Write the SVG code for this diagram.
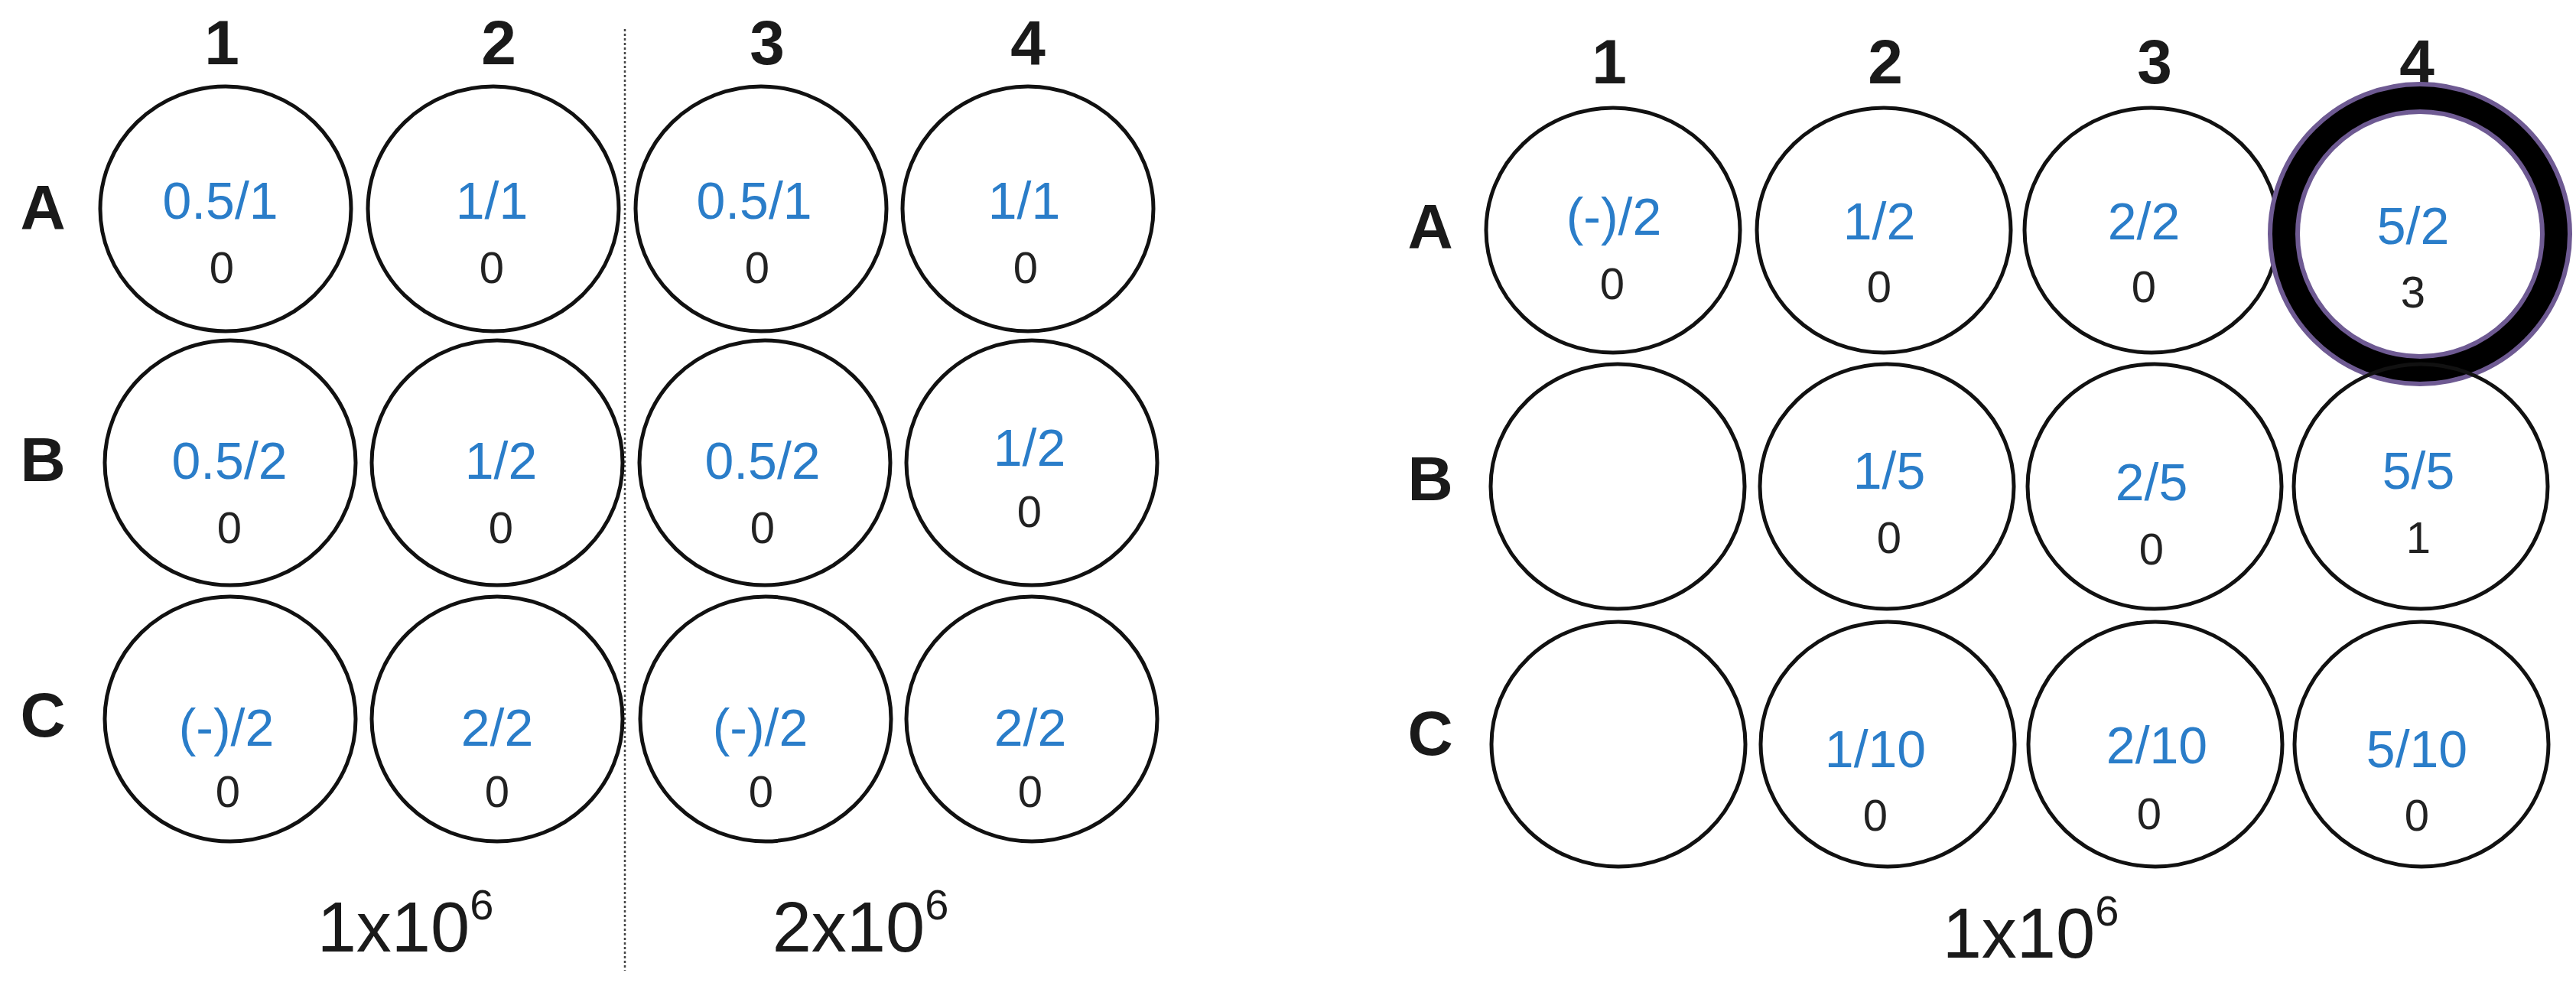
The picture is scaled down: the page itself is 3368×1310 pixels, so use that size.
<svg xmlns="http://www.w3.org/2000/svg" width="3368" height="1310" viewBox="0 0 3368 1310">
<style>
.w{fill:none;stroke:#111;stroke-width:5}
.h{font-family:"Liberation Sans",Arial,sans-serif;font-weight:bold;font-size:82px;fill:#1a1a1a;text-anchor:middle}
.b{font-family:"Liberation Sans",Arial,sans-serif;font-size:68px;fill:#2a7dc9;text-anchor:middle}
.k{font-family:"Liberation Sans",Arial,sans-serif;font-size:58px;fill:#222;text-anchor:middle}
.m{font-family:"Liberation Sans",Arial,sans-serif;font-size:92px;fill:#1a1a1a;text-anchor:middle}
</style>
<rect width="3368" height="1310" fill="#fff"/>
<g id="left-labels">
<text class="h" x="290" y="84">1</text><text class="h" x="652" y="84">2</text><text class="h" x="1003" y="84">3</text><text class="h" x="1344" y="84">4</text>
<text class="h" x="56" y="299">A</text><text class="h" x="56" y="629">B</text><text class="h" x="56" y="963">C</text>
<text class="m" x="530" y="1244">1x10<tspan font-size="56" dy="-42">6</tspan></text>
<text class="m" x="1125" y="1244">2x10<tspan font-size="56" dy="-42">6</tspan></text>
</g>
<line x1="817" y1="38" x2="817" y2="1269" stroke="#444" stroke-width="2.5" stroke-dasharray="3 3"/>
<g id="left-A1"><ellipse class="w" cx="295" cy="273" rx="164" ry="160"/><text class="b" x="288" y="286">0.5/1</text><text class="k" x="290" y="370">0</text></g>
<g id="left-A2"><ellipse class="w" cx="645" cy="273" rx="164" ry="160"/><text class="b" x="643" y="286">1/1</text><text class="k" x="643" y="370">0</text></g>
<g id="left-A3"><ellipse class="w" cx="995" cy="273" rx="164" ry="160"/><text class="b" x="986" y="286">0.5/1</text><text class="k" x="990" y="370">0</text></g>
<g id="left-A4"><ellipse class="w" cx="1344" cy="273" rx="164" ry="160"/><text class="b" x="1339" y="286">1/1</text><text class="k" x="1341" y="370">0</text></g>
<g id="left-B1"><ellipse class="w" cx="301" cy="605" rx="164" ry="160"/><text class="b" x="300" y="626">0.5/2</text><text class="k" x="300" y="710">0</text></g>
<g id="left-B2"><ellipse class="w" cx="650" cy="605" rx="164" ry="160"/><text class="b" x="655" y="626">1/2</text><text class="k" x="655" y="710">0</text></g>
<g id="left-B3"><ellipse class="w" cx="1000" cy="605" rx="164" ry="160"/><text class="b" x="997" y="626">0.5/2</text><text class="k" x="997" y="710">0</text></g>
<g id="left-B4"><ellipse class="w" cx="1349" cy="605" rx="164" ry="160"/><text class="b" x="1346" y="609">1/2</text><text class="k" x="1346" y="689">0</text></g>
<g id="left-C1"><ellipse class="w" cx="301" cy="940" rx="164" ry="160"/><text class="b" x="296" y="975">(-)/2</text><text class="k" x="298" y="1055">0</text></g>
<g id="left-C2"><ellipse class="w" cx="650" cy="940" rx="164" ry="160"/><text class="b" x="650" y="975">2/2</text><text class="k" x="650" y="1055">0</text></g>
<g id="left-C3"><ellipse class="w" cx="1001" cy="940" rx="164" ry="160"/><text class="b" x="994" y="975">(-)/2</text><text class="k" x="995" y="1055">0</text></g>
<g id="left-C4"><ellipse class="w" cx="1349" cy="940" rx="164" ry="160"/><text class="b" x="1347" y="975">2/2</text><text class="k" x="1347" y="1055">0</text></g>
<g id="right-labels">
<text class="h" x="2104" y="109">1</text><text class="h" x="2465" y="109">2</text><text class="h" x="2817" y="109">3</text><text class="h" x="3160" y="109">4</text>
<text class="h" x="1870" y="324">A</text><text class="h" x="1870" y="654">B</text><text class="h" x="1870" y="987">C</text>
<text class="m" x="2655" y="1252">1x10<tspan font-size="56" dy="-42">6</tspan></text>
</g>
<g id="right-A1"><ellipse class="w" cx="2109" cy="301" rx="166" ry="160"/><text class="b" x="2110" y="307">(-)/2</text><text class="k" x="2108" y="391">0</text></g>
<g id="right-A2"><ellipse class="w" cx="2463" cy="301" rx="166" ry="160"/><text class="b" x="2457" y="313">1/2</text><text class="k" x="2457" y="395">0</text></g>
<g id="right-A3"><ellipse class="w" cx="2813" cy="301" rx="166" ry="160"/><text class="b" x="2803" y="313">2/2</text><text class="k" x="2803" y="395">0</text></g>
<g id="right-A4"><ellipse cx="3164" cy="306" rx="178" ry="178" fill="none" stroke="#6e5a92" stroke-width="42"/><ellipse cx="3164" cy="306" rx="178" ry="178" fill="none" stroke="#000" stroke-width="30"/><text class="b" x="3155" y="319">5/2</text><text class="k" x="3155" y="402" font-size="54">3</text></g>
<g id="right-B1"><ellipse class="w" cx="2115" cy="636" rx="166" ry="160"/></g>
<g id="right-B2"><ellipse class="w" cx="2467" cy="636" rx="166" ry="160"/><text class="b" x="2470" y="639">1/5</text><text class="k" x="2470" y="723">0</text></g>
<g id="right-B3"><ellipse class="w" cx="2817" cy="636" rx="166" ry="160"/><text class="b" x="2813" y="654">2/5</text><text class="k" x="2813" y="738">0</text></g>
<g id="right-B4"><ellipse class="w" cx="3165" cy="636" rx="166" ry="160"/><text class="b" x="3162" y="639">5/5</text><text class="k" x="3162" y="723">1</text></g>
<g id="right-C1"><ellipse class="w" cx="2116" cy="973" rx="166" ry="160"/></g>
<g id="right-C2"><ellipse class="w" cx="2468" cy="973" rx="166" ry="160"/><text class="b" x="2452" y="1003">1/10</text><text class="k" x="2452" y="1086">0</text></g>
<g id="right-C3"><ellipse class="w" cx="2818" cy="973" rx="166" ry="160"/><text class="b" x="2820" y="998">2/10</text><text class="k" x="2810" y="1084">0</text></g>
<g id="right-C4"><ellipse class="w" cx="3166" cy="973" rx="166" ry="160"/><text class="b" x="3160" y="1003">5/10</text><text class="k" x="3160" y="1086">0</text></g>
</svg>
